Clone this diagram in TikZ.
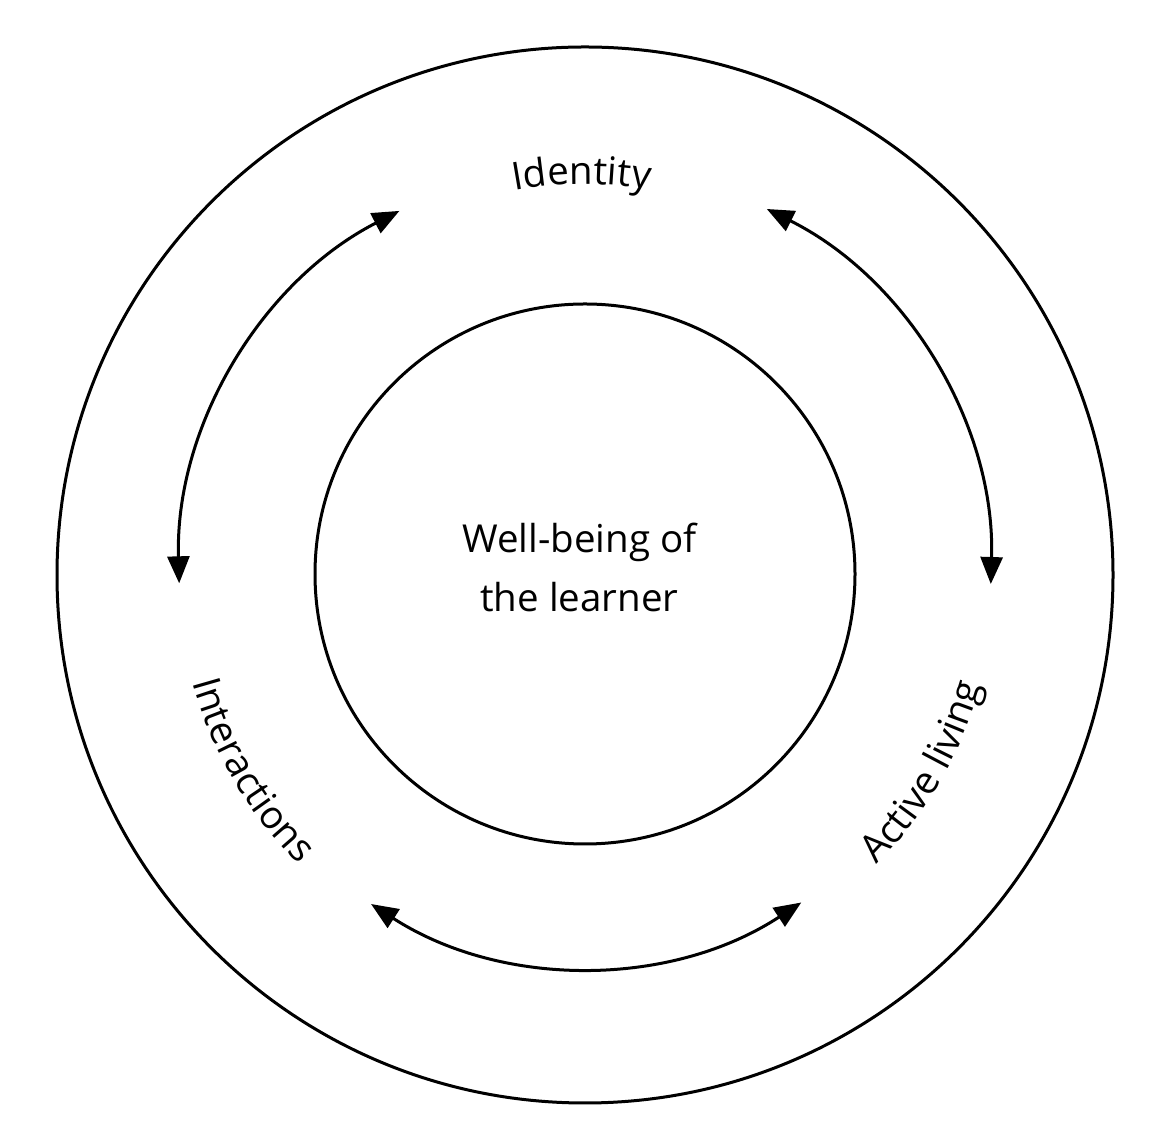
\documentclass[tikz,border=0pt]{standalone}
\usepackage{fontspec}
\setmainfont{Open Sans}
\usetikzlibrary{arrows.meta,decorations.text}
\newcommand\lblfont{\fontsize{38.5}{53}\selectfont}
\begin{document}
\begin{tikzpicture}[x=1pt,y=1pt,
  ring/.style={draw,circle,line width=3pt,inner sep=0pt},
  link/.style={line width=3pt,{Triangle[length=27pt,width=22pt]}-{Triangle[length=27pt,width=22pt]}},
  curved/.style={decorate,decoration={text along path,text align=center,text={#1}}}]
\useasboundingbox (0,0) rectangle (1170,1124);
\coordinate (C) at (585,549);
\coordinate (A) at (585,552);
\node[ring,minimum size=1056pt] (outer) at (C) {};
\node[ring,minimum size=540pt] (inner) at (585,550) {};
% centre text
\node[anchor=base,font=\lblfont,inner sep=0pt] (wb1) at (579.5,571) {Well-being of};
\node[anchor=base,font=\lblfont,inner sep=0pt] (wb2) at (579.5,512) {the learner};
% arrow end points
\coordinate (tlA) at ([shift={(117.2:406)}]A);
\coordinate (trA) at ([shift={(63.4:406)}]A);
\coordinate (bA) at ([shift={(237.2:395)}]A);
% arrows
\draw[link] (tlA) arc[start angle=117.2,end angle=181.6,radius=406];
\draw[link] (trA) arc[start angle=63.4,end angle=-1.7,radius=406];
\draw[link] (bA) arc[start angle=237.2,end angle=303.2,radius=395];
% curved labels
\coordinate (idS) at ([shift={(110.5:391)}]C);
\coordinate (inS) at ([shift={(184.3:407)}]C);
\coordinate (alS) at ([shift={(304.8:411)}]C);
\path[curved={|\lblfont|Identity}] (idS) arc[start angle=110.5,end angle=70.5,radius=391];
\path[curved={|\lblfont|Interactions}] (inS) arc[start angle=184.3,end angle=236.3,radius=407];
\path[curved={|\lblfont|Active living}] (alS) arc[start angle=304.8,end angle=354.8,radius=411];
\end{tikzpicture}
\end{document}
